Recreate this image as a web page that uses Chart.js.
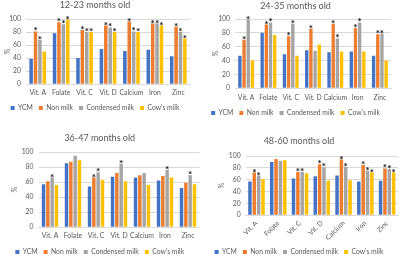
<!DOCTYPE html>
<html><head><meta charset="utf-8">
<script src="https://cdn.jsdelivr.net/npm/chart.js@4/dist/chart.umd.min.js"></script>
<style>
html,body{margin:0;padding:0;background:#fff;overflow:hidden;width:400px;height:256px;}
canvas{position:absolute;}
</style></head><body>
<canvas id="c1" width="200" height="128" style="left:0;top:0"></canvas>
<canvas id="c2" width="200" height="128" style="left:200px;top:0"></canvas>
<canvas id="c3" width="205" height="140" style="left:0;top:128px"></canvas>
<canvas id="c4" width="200" height="140" style="left:200px;top:128px"></canvas>
<script>
// ---------- data ----------
const nutrients = ["Vit. A","Folate","Vit. C","Vit. D","Calcium","Iron","Zinc"];
const seriesNames = ["YCM","Non milk","Condensed milk","Cow's milk"];
const yTicks = [0,20,40,60,80,100];

// 12-23 months old
const ycm_12_23       = [39,78,40,54,51,53,43];
const nonMilk_12_23   = [81,95,83,90,96,93,88];
const condensed_12_23 = [68,92,80,87,81,93,80];
const cowMilk_12_23   = [50,99,80,80,80,90,70];
const sigNon_12_23    = [1,1,1,1,1,1,1];
const sigCond_12_23   = [1,1,1,1,1,1,1];
const sigCow_12_23    = [0,1,1,1,1,1,1];

// 24-35 months old
const ycm_24_35       = [47,80,49,55,52,53,47];
const nonMilk_24_35   = [70,92,75,86,93,87,78];
const condensed_24_35 = [99,95,93,54,72,95,79];
const cowMilk_24_35   = [40,77,47,63,53,53,40];
const sigNon_24_35    = [1,1,1,1,1,1,1];
const sigCond_24_35   = [1,1,1,0,1,1,1];
const sigCow_24_35    = [0,0,0,0,0,0,0];

// 36-47 months old
const ycm_36_47       = [57,85,54,67,66,62,52];
const nonMilk_36_47   = [61,87,66,72,69,68,59];
const condensed_36_47 = [66,95,73,84,72,76,69];
const cowMilk_36_47   = [56,89,63,61,56,66,57];
const sigNon_36_47    = [0,0,1,0,0,0,0];
const sigCond_36_47   = [1,0,1,1,0,1,1];
const sigCow_36_47    = [0,0,0,0,0,0,0];

// 48-60 months old
const ycm_48_60       = [57,90,62,66,67,57,58];
const nonMilk_48_60   = [72,95,73,86,94,85,79];
const condensed_48_60 = [67,92,73,81,82,75,78];
const cowMilk_48_60   = [61,93,71,58,59,72,72];
const sigNon_48_60    = [1,0,1,1,1,1,1];
const sigCond_48_60   = [1,0,1,1,1,1,1];
const sigCow_48_60    = [0,0,0,0,0,1,1];

// ---------- styling ----------
const colors = ['#4472C4','#ED7D31','#A5A5A5','#FFC000'];
const FONT = 'Lato, "Open Sans", sans-serif';
const TXT = '#595959';

const starPlugin = {
  id:'stars',
  afterDatasetsDraw(chart){
    const ctx = chart.ctx;
    ctx.save();
    ctx.fillStyle = '#111';
    ctx.font = 'bold 10px ' + FONT;
    ctx.textAlign = 'center';
    ctx.textBaseline = 'alphabetic';
    chart.data.datasets.forEach((ds,i)=>{
      if(!ds.sig) return;
      const meta = chart.getDatasetMeta(i);
      ds.sig.forEach((s,j)=>{
        if(!s) return;
        const el = meta.data[j];
        ctx.fillText('*', el.x, el.y + 3);
      });
    });
    ctx.restore();
  }
};

function makeChart(id, title, vals, sigs, L){
  const datasets = seriesNames.map((n,i)=>({
    label:n, data:vals[i], backgroundColor:colors[i], borderWidth:0,
    sig: sigs[i], categoryPercentage:L.cat, barPercentage:0.8
  }));
  return new Chart(document.getElementById(id), {
    type:'bar',
    data:{labels:nutrients, datasets},
    plugins:[starPlugin],
    options:{
      responsive:false, animation:false, devicePixelRatio:1,
      layout:{padding:{left:0,right:L.padR,top:0,bottom:L.padB}},
      plugins:{
        title:{display:true,text:title,color:TXT,font:{family:FONT,size:9,weight:'normal'},
               padding:{top:L.tTop,bottom:L.tBot}},
        legend:{position:'bottom',labels:{color:TXT,font:{family:FONT,size:6.8},
               boxWidth:4,boxHeight:4,padding:6}},
        tooltip:{enabled:false}
      },
      scales:{
        x:{
          grid:{display:false,drawTicks:false},
          border:{color:'#D9D9D9'},
          ticks:{color:TXT,font:{family:FONT,size:6.8},padding:L.xPad,
                 maxRotation:L.rot,minRotation:L.rot,autoSkip:false},
          afterFit(s){ s.height = L.xH; }
        },
        y:{
          min:0,max:100,
          afterBuildTicks(s){ s.ticks = yTicks.map(v=>({value:v})); },
          grid:{color:'#D9D9D9',drawTicks:false},
          border:{display:false},
          ticks:{color:TXT,font:{family:FONT,size:6.8},padding:5},
          title:{display:true,text:'%',color:TXT,font:{family:FONT,size:7},padding:{top:L.yTitle,bottom:0}},
          afterFit(s){ s.width = L.yW; }
        }
      }
    }
  });
}

makeChart('c1','12-23 months old',
  [ycm_12_23,nonMilk_12_23,condensed_12_23,cowMilk_12_23],
  [null,sigNon_12_23,sigCond_12_23,sigCow_12_23],
  {padR:10,padB:6.5,tTop:0,tBot:8.2,xH:14.5,xPad:5,yW:26,yTitle:4,cat:0.75,rot:0});
makeChart('c2','24-35 months old',
  [ycm_24_35,nonMilk_24_35,condensed_24_35,cowMilk_24_35],
  [null,sigNon_24_35,sigCond_24_35,sigCow_24_35],
  {padR:9,padB:1.5,tTop:0.6,tBot:7.6,xH:15.5,xPad:6,yW:35,yTitle:12,cat:0.75,rot:0});
makeChart('c3','36-47 months old',
  [ycm_36_47,nonMilk_36_47,condensed_36_47,cowMilk_36_47],
  [null,sigNon_36_47,sigCond_36_47,sigCow_36_47],
  {padR:5.5,padB:2.5,tTop:4.6,tBot:8.6,xH:15.5,xPad:5,yW:38.5,yTitle:11,cat:0.75,rot:0});
makeChart('c4','48-60 months old',
  [ycm_48_60,nonMilk_48_60,condensed_48_60,cowMilk_48_60],
  [null,sigNon_48_60,sigCond_48_60,sigCow_48_60],
  {padR:2,padB:2.5,tTop:7.6,tBot:9.6,xH:27.5,xPad:4,yW:45.6,yTitle:18,cat:0.8,rot:45});
</script>
</body></html>
